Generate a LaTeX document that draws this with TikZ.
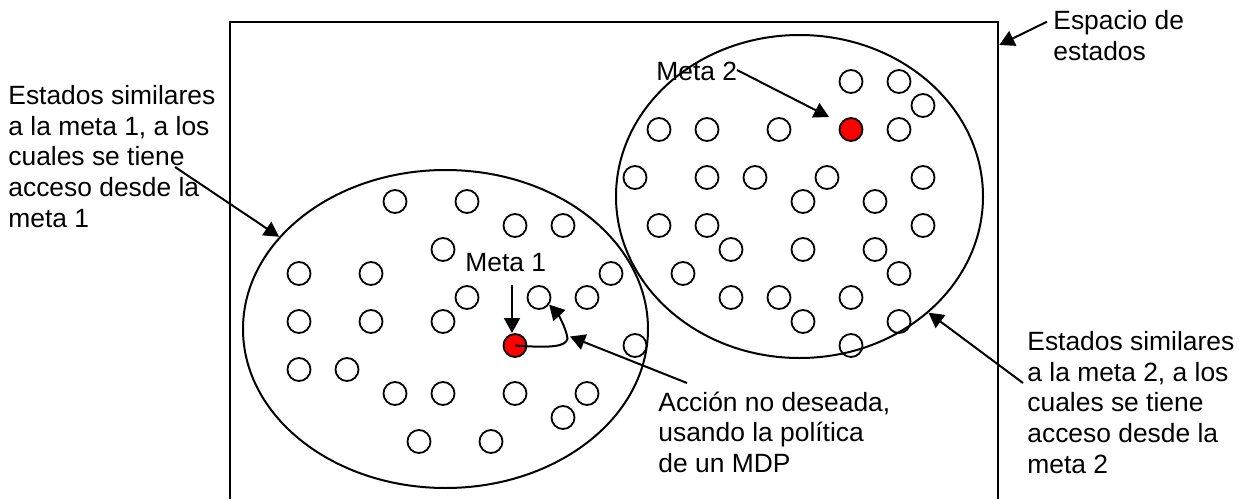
\documentclass[tikz,border=0pt]{standalone}
\usepackage{fontspec}
\setmainfont{Liberation Sans}
\usetikzlibrary{arrows.meta,shapes.geometric}
\tikzset{
  st/.style={circle,draw,line width=0.9pt,minimum size=11.5pt,inner sep=0pt},
  goal/.style={st,fill=red},
  region/.style={ellipse,draw,line width=1pt,inner sep=0pt},
  arr/.style={line width=1pt,-{Triangle[length=7.5pt,width=8pt]}},
  lbl/.style={anchor=base west,inner sep=0pt,align=left,font=\fontsize{13.2pt}{15.3pt}\selectfont},
}
\begin{document}
\begin{tikzpicture}[x=0.5pt,y=-0.5pt]
\useasboundingbox (0,0) rectangle (1239,499);
% state space frame (bottom edge outside the picture)
\draw[line width=1pt] (230,499) -- (230,22) -- (998,22) -- (998,499);
% regions
\node[region,minimum width=202.5pt,minimum height=159pt] (e1) at (445.5,329) {};
\node[region,minimum width=183.5pt,minimum height=161.5pt] (e2) at (799.5,196.5) {};
% states
\foreach \i/\j in {4/5,7/5,9/6,11/6,6/7,0/8,3/8,13/8,7/9,10/9,12/9,0/10,3/10,6/10,14/11,0/12,2/12,4/13,6/13,9/13,12/13,11/14,5/15,8/15,
  23/0,25/0,26/1,15/2,17/2,20/2,25/2,14/4,17/4,19/4,22/4,26/4,21/5,24/5,15/6,17/6,26/6,18/7,21/7,24/7,16/8,25/8,18/9,20/9,23/9,21/10,25/10,23/11}
  \node[st] (c-\i-\j) at ({299+24*\i},{81.5+24*\j}) {};
\node[goal] (g1) at (515,345.5) {};
\node[goal] (g2) at (851,129.5) {};
% labels (anchor = baseline of the last line)
\node[lbl] (t1) at (8,227) {Estados similares\\a la meta 1, a los\\cuales se tiene\\acceso desde la\\meta 1};
\node[lbl] (t2) at (1027,473) {Estados similares\\a la meta 2, a los\\cuales se tiene\\acceso desde la\\meta 2};
\node[lbl] (t3) at (1053,60) {Espacio de\\estados};
\node[lbl] (t4) at (658,472.3) {Acción no deseada,\\usando la política\\de un MDP};
\node[lbl] (m1) at (465,271.7) {Meta 1};
\node[lbl] (m2) at (656,80) {Meta 2};
% connector anchors
\coordinate (s1) at (175,167);
\coordinate (s2) at (1023,383);
\coordinate (s3) at (1047,21.7);
\coordinate (f3) at (999.3,45);
\coordinate (s4) at (687,383);
\coordinate (f4) at (570,336.5);
\coordinate (s5) at (512,285);
\coordinate (f5) at (512,333);
\coordinate (s6) at (737,70);
\coordinate (f6) at (829,117);
\coordinate (k) at (567.5,338.5);
% connectors
\draw[arr] (s1) -- (e1.151);
\draw[arr] (s2) -- (e2.-42);
\draw[arr] (s3) -- (f3);
\draw[arr] (s4) -- (f4);
\draw[arr] (s5) -- (f5);
\draw[arr] (s6) -- (f6);
\draw[arr] (g1.center) .. controls (550,348) and (566,347) .. (k) .. controls (566,327) and (557,313) .. (c-10-9.-35);
\end{tikzpicture}
\end{document}
